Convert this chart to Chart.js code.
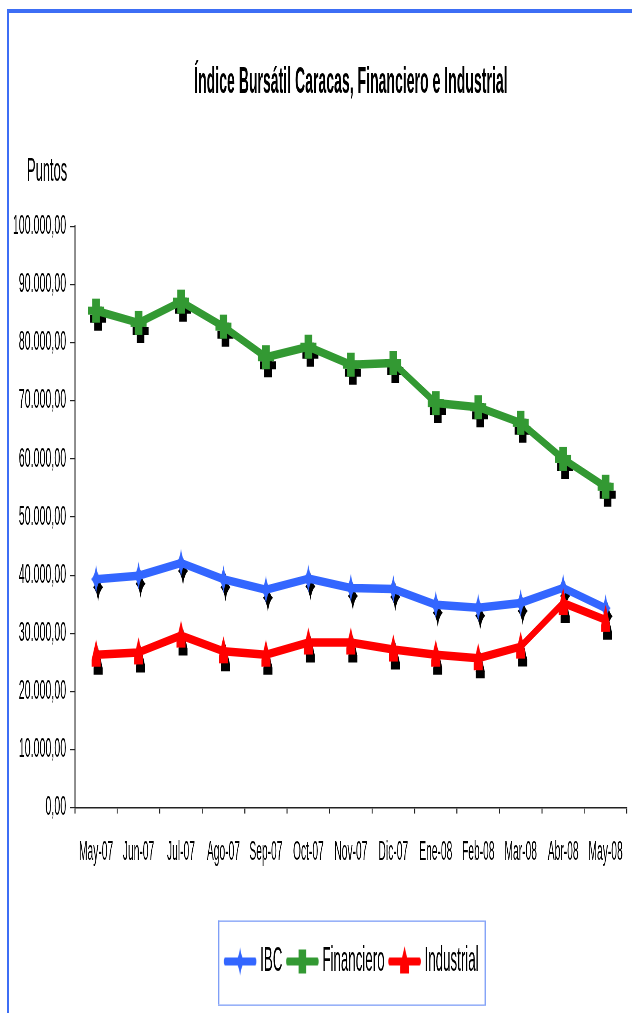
<!DOCTYPE html>
<html>
<head>
<meta charset="utf-8">
<script src="https://cdn.jsdelivr.net/npm/chart.js@4.4.1/dist/chart.umd.min.js"></script>
<style>
  body { margin: 0; background: #fff; overflow: hidden; }
  #frame { position: absolute; left: 7px; top: 9px; width: 640px; height: 1020px;
           border-top: 4px solid #3d6ef5; border-left: 2px solid #3d6ef5; }
  /* the reference is squeezed sideways, so the chart is drawn wide and squeezed too */
  #wrap { position: absolute; left: 0; top: 0; width: 1663px; height: 1013px;
          transform: scaleX(0.38); transform-origin: 0 0; }
</style>
</head>
<body>
<div id="frame"></div>
<div id="wrap"><canvas id="myChart"></canvas></div>
<script>
var months = ["May-07", "Jun-07", "Jul-07", "Ago-07", "Sep-07", "Oct-07", "Nov-07",
  "Dic-07", "Ene-08", "Feb-08", "Mar-08", "Abr-08", "May-08"];
var ibc = [39300, 39900, 42100, 39300, 37500, 39400, 37800, 37600, 34900, 34400, 35200, 37800, 34300];
var financiero = [85500, 83400, 87050, 82750, 77500, 79300, 76200, 76500, 69600, 68900, 66200, 60000, 55200];
var industrial = [26300, 26700, 29600, 26900, 26300, 28400, 28400, 27200, 26300, 25700, 27700, 35200, 32300];
var yTicks = [0, 10000, 20000, 30000, 40000, 50000, 60000, 70000, 80000, 90000, 100000];

var KX = 1 / 0.38;
var FONT = '"Liberation Sans", Arial, sans-serif';
var BLUE = "#3366ff";
var GREEN = "#339933";
var RED = "#ff0000";
var LEG_BOX = 80;

function fmt(v) {
  return String(v).replace(/\B(?=(\d{3})+(?!\d))/g, ".") + ",00";
}

function drawShape(ctx, kind, x, y, color) {
  ctx.fillStyle = color;
  ctx.beginPath();
  if (kind == "diamond") {
    var w = 5 * KX, h = 14;
    ctx.moveTo(x, y - h);
    ctx.quadraticCurveTo(x + w * 0.25, y - h * 0.25, x + w, y);
    ctx.quadraticCurveTo(x + w * 0.25, y + h * 0.25, x, y + h);
    ctx.quadraticCurveTo(x - w * 0.25, y + h * 0.25, x - w, y);
    ctx.quadraticCurveTo(x - w * 0.25, y - h * 0.25, x, y - h);
  } else if (kind == "cross") {
    var bw = 3.8 * KX, aw = 8 * KX;
    ctx.rect(x - bw, y - 12, 2 * bw, 24);
    ctx.rect(x - aw, y - 4, 2 * aw, 8);
  } else {
    var tw = 4.5 * KX;
    ctx.moveTo(x, y - 15);
    ctx.lineTo(x + tw, y + 5);
    ctx.lineTo(x + tw, y + 12);
    ctx.lineTo(x - tw, y + 12);
    ctx.lineTo(x - tw, y + 5);
  }
  ctx.closePath();
  ctx.fill();
}

function markerImg(kind, color) {
  var c = document.createElement("canvas");
  c.width = 50; c.height = 34;
  drawShape(c.getContext("2d"), kind, 25, 17, color);
  return c;
}

// legend sample: transparent on the left so the line sits close to its text
function legendImg(kind, color) {
  var c = document.createElement("canvas");
  var pad = 9.5;
  c.width = LEG_BOX + 2 * pad; c.height = 34;
  var ctx = c.getContext("2d");
  ctx.strokeStyle = color;
  ctx.lineWidth = 8;
  ctx.lineCap = "round";
  ctx.beginPath();
  ctx.moveTo(pad + 6, 17);
  ctx.lineTo(c.width - 6, 17);
  ctx.stroke();
  drawShape(ctx, kind, (pad + c.width) / 2, 17, color);
  return c;
}

var shapes = ["diamond", "cross", "triangle"];
var colors = [BLUE, GREEN, RED];

// black drop shadows under the markers, drawn before the lines
var shadowPlugin = {
  id: "shadows",
  beforeDatasetsDraw: function (chart) {
    var ctx = chart.ctx;
    ctx.save();
    chart.data.datasets.forEach(function (ds, i) {
      chart.getDatasetMeta(i).data.forEach(function (pt) {
        drawShape(ctx, shapes[i], pt.x + 2 * KX, pt.y + 8, "#000");
      });
    });
    ctx.restore();
  },
  afterDraw: function (chart) {
    var ctx = chart.ctx;
    ctx.save();
    ctx.fillStyle = "#000";
    ctx.font = "34px " + FONT;
    ctx.textBaseline = "middle";
    ctx.fillText("Puntos", 71, chart.chartArea.top - 55);
    // box round the legend
    var hb = chart.legend.legendHitBoxes;
    if (hb && hb.length) {
      var l = hb[0].left - 5 * KX;
      var r = hb[hb.length - 1].left + hb[hb.length - 1].width + 6 * KX;
      var cy = hb[0].top + hb[0].height / 2;
      var t = cy - 41, b = cy + 43;
      ctx.fillStyle = "#7f9ff7";
      ctx.fillRect(l, t, r - l, 1.3);
      ctx.fillRect(l, b, r - l, 1.3);
      ctx.fillRect(l, t, 1.3 * KX, b - t);
      ctx.fillRect(r, t, 1.3 * KX, b - t + 1.3);
    }
    ctx.restore();
  }
};

var ctx = document.getElementById("myChart");
new Chart(ctx, {
  type: "line",
  data: {
    labels: months,
    datasets: [
      { label: "IBC", data: ibc, borderColor: BLUE, backgroundColor: BLUE, borderWidth: 8.5,
        pointStyle: markerImg("diamond", BLUE), pointRadius: 5, order: 1 },
      { label: "Financiero", data: financiero, borderColor: GREEN, backgroundColor: GREEN, borderWidth: 8.5,
        pointStyle: markerImg("cross", GREEN), pointRadius: 5, order: 2 },
      { label: "Industrial", data: industrial, borderColor: RED, backgroundColor: RED, borderWidth: 8.5,
        pointStyle: markerImg("triangle", RED), pointRadius: 5, order: 0 }
    ]
  },
  options: {
    responsive: true,
    maintainAspectRatio: false,
    animation: false,
    layout: { padding: { left: 20, right: 13, top: 0, bottom: 24 } },
    elements: { line: { borderJoinStyle: "round", tension: 0 } },
    plugins: {
      title: {
        display: true,
        fullSize: false,
        text: "Índice Bursátil Caracas, Financiero e Industrial",
        color: "#000",
        font: { family: FONT, size: 37, weight: "bold", lineHeight: 1.2 },
        padding: { top: 61, bottom: 121 }
      },
      tooltip: { enabled: false },
      legend: {
        position: "bottom",
        fullSize: false,
        title: { display: true, text: " ", font: { size: 10, lineHeight: 1 }, padding: { top: 34, bottom: 0 } },
        labels: {
          usePointStyle: true,
          pointStyleWidth: LEG_BOX,
          padding: 8,
          color: "#000",
          font: { family: FONT, size: 35 },
          generateLabels: function (chart) {
            return chart.data.datasets.map(function (ds, i) {
              return {
                text: ds.label,
                pointStyle: legendImg(shapes[i], colors[i]),
                fillStyle: colors[i],
                strokeStyle: colors[i],
                lineWidth: 0,
                fontColor: "#000",
                hidden: false,
                datasetIndex: i
              };
            });
          }
        }
      }
    },
    scales: {
      x: {
        offset: true,
        grid: { display: true, drawOnChartArea: false, offset: true, tickLength: 6, lineWidth: 2.6, color: "#222" },
        border: { display: true, color: "#222", width: 1.5 },
        ticks: { color: "#000", font: { family: FONT, size: 27 }, padding: 23, maxRotation: 0, autoSkip: false }
      },
      y: {
        min: 0,
        max: 100000,
        afterFit: function (scale) { scale.width = 177; },
        afterBuildTicks: function (scale) {
          scale.ticks = yTicks.map(function (v) { return { value: v }; });
        },
        grid: { drawOnChartArea: false, tickLength: 13, lineWidth: 1.2, color: "#222" },
        border: { display: true, color: "#222", width: 2.6 },
        ticks: { color: "#000", font: { family: FONT, size: 28 }, padding: 10, callback: fmt }
      }
    }
  },
  plugins: [shadowPlugin]
});
</script>
</body>
</html>
